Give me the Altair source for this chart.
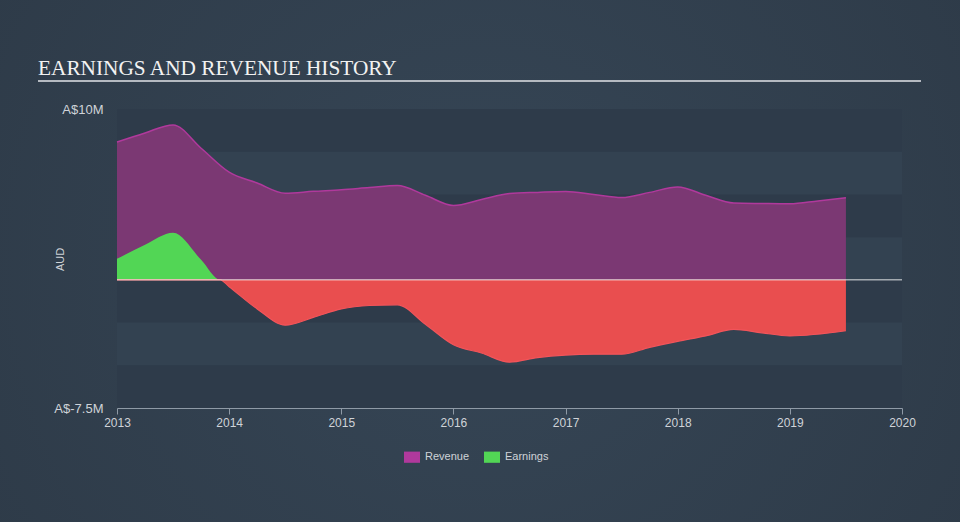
import altair as alt
import pandas as pd

# ---- data (values in A$ millions) ----
rev_years = [2013.0, 2013.25, 2013.5, 2013.75, 2014.0, 2014.25, 2014.5, 2014.75, 2015.0,
             2015.25, 2015.5, 2015.75, 2016.0, 2016.25, 2016.5, 2016.75, 2017.0, 2017.25,
             2017.5, 2017.75, 2018.0, 2018.25, 2018.5, 2018.75, 2019.0, 2019.25, 2019.5]
rev_values = [8.07, 8.6, 9.07, 7.7, 6.3, 5.67, 5.07, 5.18, 5.27,
              5.4, 5.52, 4.95, 4.35, 4.7, 5.05, 5.12, 5.17, 5.0,
              4.82, 5.12, 5.44, 4.95, 4.5, 4.47, 4.45, 4.62, 4.8]

earn_years = [2013.0, 2013.25, 2013.5, 2013.75, 2013.92, 2014.0, 2014.25, 2014.5, 2014.75,
              2015.0, 2015.25, 2015.5, 2015.75, 2016.0, 2016.25, 2016.5, 2016.75, 2017.0,
              2017.25, 2017.5, 2017.75, 2018.0, 2018.25, 2018.5, 2018.75, 2019.0, 2019.5]
earn_values = [1.23, 2.05, 2.75, 1.17, 0.0, -0.4, -1.7, -2.65, -2.2,
               -1.7, -1.5, -1.46, -2.6, -3.8, -4.28, -4.82, -4.55, -4.4,
               -4.35, -4.35, -3.95, -3.6, -3.28, -2.9, -3.1, -3.28, -2.98]

series_names = ["Revenue", "Earnings"]
band_tops = [10, 5, 0, -5]
band_bottoms = [7.5, 2.5, -2.5, -7.5]
x_ticks = [2013, 2014, 2015, 2016, 2017, 2018, 2019, 2020]
title_text = "EARNINGS AND REVENUE HISTORY"

rev_df = pd.DataFrame({"year": rev_years, "value": rev_values, "series": "Revenue"})
earn_df = pd.DataFrame({"year": earn_years, "value": earn_values})
band_df = pd.DataFrame({"top": band_tops, "bottom": band_bottoms})

W, H = 785, 299
BG = "#313f4e"
LABEL_COLOR = "#cfd3d8"
FONT = "Liberation Sans"

x_scale = alt.Scale(domain=[2013, 2020], nice=False, zero=False)
y_scale = alt.Scale(domain=[-7.5, 10], nice=False, zero=False)

x_axis = alt.Axis(values=x_ticks, format="d", title=None, grid=False, zindex=1,
                  domainColor="#8f9aa6", tickColor="#8f9aa6", tickSize=6,
                  labelColor=LABEL_COLOR, labelFontSize=12, labelFont=FONT,
                  labelPadding=3, labelFlush=False)
y_axis = alt.Axis(values=[10, -7.5], title="AUD", grid=False, domain=False, ticks=False, zindex=1,
                  labelExpr="datum.value == 10 ? 'A$10M' : 'A$-7.5M'",
                  labelColor=LABEL_COLOR, labelFontSize=13, labelFont=FONT,
                  labelPadding=14, titleColor=LABEL_COLOR, titleFontSize=11,
                  titleFont=FONT, titleFontWeight="normal",
                  titleX=-57, titleY=150, titleAngle=270, titleAlign="center",
                  titleBaseline="middle")

# background gradient covering the whole canvas
bg = alt.Chart(pd.DataFrame({"a": [0]})).mark_rect(
    color=alt.Gradient(
        gradient="radial",
        stops=[alt.GradientStop(offset=0, color="#364656"),
               alt.GradientStop(offset=1, color="#2c3845")],
        x1=0.5, y1=0.5, x2=0.5, y2=0.5, r1=0, r2=0.75,
    )
).encode(x=alt.value(-117), x2=alt.value(843), y=alt.value(-109), y2=alt.value(413))

plot_bg = alt.Chart(pd.DataFrame({"a": [0]})).mark_rect(color="#334251").encode(
    x=alt.value(0), x2=alt.value(W), y=alt.value(0), y2=alt.value(H)
)

bands = alt.Chart(band_df).mark_rect(color="#2e3b4a").encode(
    y=alt.Y("top:Q", scale=y_scale, axis=y_axis),
    y2="bottom:Q",
    x=alt.value(0), x2=alt.value(W),
)

revenue = alt.Chart(rev_df).mark_area(
    interpolate="monotone", fill="#7b3873", fillOpacity=1,
    line=alt.LineConfig(color="#b83ca2", strokeWidth=1.5),
).encode(
    x=alt.X("year:Q", scale=x_scale, axis=x_axis),
    y=alt.Y("value:Q", scale=y_scale, axis=y_axis),
    y2=alt.datum(0),
    color=alt.Color("series:N",
                    scale=alt.Scale(domain=series_names, range=["#b0399c", "#52d655"]),
                    legend=alt.Legend(title=None, orient="none", direction="horizontal",
                                      legendX=287, legendY=340,
                                      symbolType="M-1,-0.7H1V0.7H-1Z", symbolSize=256,
                                      symbolStrokeWidth=0, symbolOpacity=1,
                                      labelColor=LABEL_COLOR, labelFontSize=11, labelFont=FONT,
                                      labelOffset=5, columnPadding=14)),
)

earn_pos = alt.Chart(earn_df).transform_calculate(
    pos="max(datum.value, 0)"
).mark_area(interpolate="monotone", color="#52d655", opacity=1).encode(
    x=alt.X("year:Q", scale=x_scale, axis=x_axis),
    y=alt.Y("pos:Q", scale=y_scale, axis=y_axis),
    y2=alt.datum(0),
)

earn_neg = alt.Chart(earn_df).transform_calculate(
    neg="min(datum.value, 0)"
).mark_area(interpolate="monotone", fill="#e94e4f", fillOpacity=1,
            line=alt.LineConfig(color="#f2545a", strokeWidth=1.2)).encode(
    x=alt.X("year:Q", scale=x_scale, axis=x_axis),
    y=alt.Y("neg:Q", scale=y_scale, axis=y_axis),
    y2=alt.datum(0),
)

zero = alt.Chart(pd.DataFrame({"z": [0]})).mark_rule(color="#ffffff", strokeWidth=1, opacity=0.85).encode(
    y=alt.Y("z:Q", scale=y_scale, axis=y_axis), x=alt.value(0), x2=alt.value(W)
)

title = alt.Chart(pd.DataFrame({"t": [title_text]})).mark_text(
    align="left", baseline="alphabetic", font="Liberation Serif", fontSize=21.3, color="#f2f2f2"
).encode(text="t:N", x=alt.value(-79), y=alt.value(-34))

underline = alt.Chart(pd.DataFrame({"a": [0]})).mark_rule(color="#b5bac1", strokeWidth=2).encode(
    x=alt.value(-79), x2=alt.value(804), y=alt.value(-28)
)

chart = alt.layer(
    bg, plot_bg, bands, revenue, earn_pos, earn_neg, zero, title, underline
).properties(
    width=W, height=H,
    padding={"left": 117, "top": 109, "right": 58, "bottom": 114},
    autosize=alt.AutoSizeParams(type="none"),
    background=BG,
).configure_view(stroke=None)

chart.save("out.html", embed_options={"renderer": "svg", "actions": False})
